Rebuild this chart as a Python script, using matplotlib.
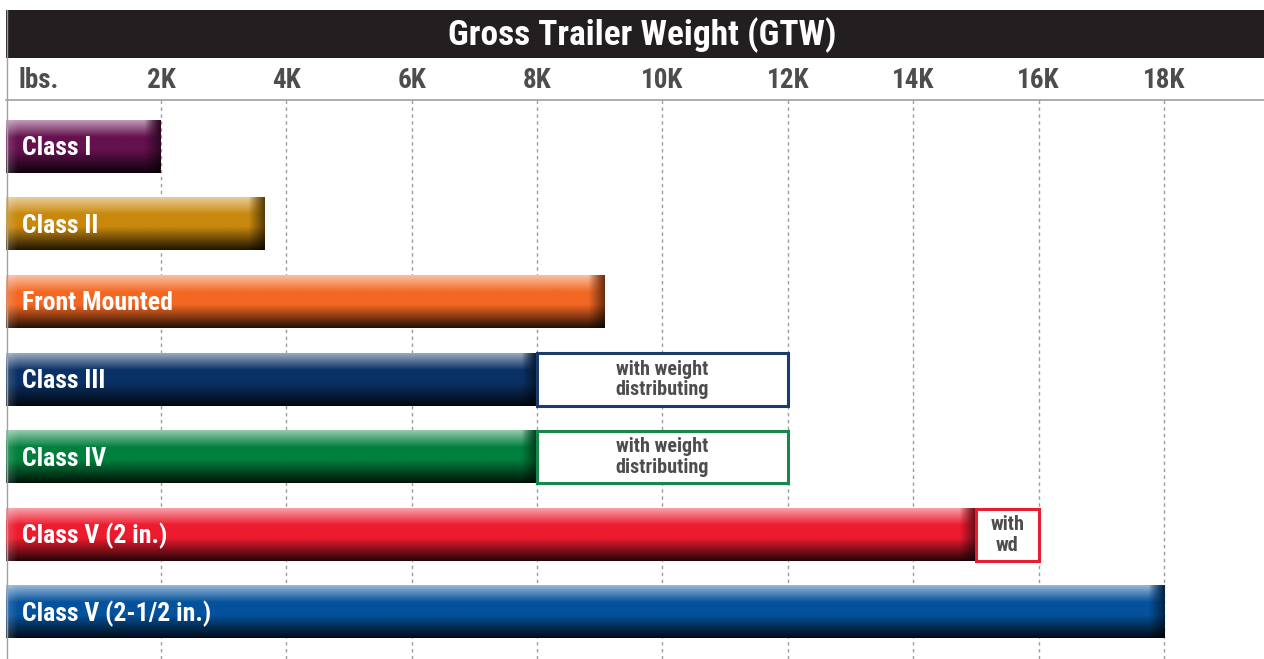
#!/usr/bin/env python
import numpy as np
import matplotlib
matplotlib.use("Agg")
import matplotlib.pyplot as plt
from matplotlib import transforms
from matplotlib.colors import to_rgb
from matplotlib.patches import Rectangle
from matplotlib.lines import Line2D

plt.rcParams['font.family'] = ['Roboto Condensed', 'DejaVu Sans']

# data (thousands of lbs)
classes = ["Class I", "Class II", "Front Mounted", "Class III", "Class IV",
           "Class V (2 in.)", "Class V (2-1/2 in.)"]
gtw_k = [2.0, 3.65, 9.08, 8.0, 8.0, 15.0, 18.0]
wd_k = [None, None, None, 12.0, 12.0, 16.0, None]
wd_labels = [None, None, None, "with weight\ndistributing",
             "with weight\ndistributing", "with\nwd", None]
bar_colors = ["#65104f", "#c8880e", "#f26722", "#0a3165",
              "#00803c", "#ed1b2e", "#05529c"]
box_edges = [None, None, None, "#1c3c6c", "#17884a", "#e61e30", None]
tick_vals = [2, 4, 6, 8, 10, 12, 14, 16, 18]
tick_labels = ["2K", "4K", "6K", "8K", "10K", "12K", "14K", "16K", "18K"]

W, H = 1264, 659
XMIN, XMAX = -0.472, 19.595
BAR_H = 0.67
GRAY = "#4d4d4f"


def bar_image(base, x0, x1, rows=64, per_k=50):
    base = np.array(to_rgb(base))
    ncol = max(int((x1 - x0) * per_k), 4)
    t = np.linspace(0, 1, rows)
    light = base * 0.42 + 0.58
    dark = base * 0.16
    prof = np.zeros((rows, 3))
    hl = np.zeros(rows)
    for i, v in enumerate(t):
        if v < 0.32:
            s = v / 0.32
            prof[i] = light * (1 - s) + base * s
            hl[i] = 1 - s
        elif v < 0.56:
            prof[i] = base
        else:
            s = (v - 0.56) / 0.44
            prof[i] = base * (1 - s) + dark * s
    img = np.repeat(prof[:, None, :], ncol, axis=1)
    xs = np.linspace(x0, x1, ncol)
    bevel = 0.25
    for j, x in enumerate(xs):
        d = x1 - x
        if d < bevel:
            s = 1 - d / bevel
            col = prof.copy()
            # no highlight in the bevel, darker toward the end
            col = col - (light - base)[None, :] * hl[:, None] * s
            col = col * (1 - 0.55 * s)
            img[:, j, :] = col
        elif x - x0 < 0.18:
            s = 1 - (x - x0) / 0.18
            img[:, j, :] = img[:, j, :] + (1 - img[:, j, :]) * 0.18 * s
    return np.clip(img, 0, 1)


fig = plt.figure(figsize=(W / 100, H / 100), dpi=100)
ax = fig.add_axes([6 / W, 0, 1 - 6 / W, 559 / H])

ax.set_xticks(tick_vals)
ax.set_yticks([])
ax.tick_params(axis='x', length=0, labelbottom=False)
ax.grid(axis='x', color="#9d9d9d", linestyle=(0, (2.5, 2.5)), linewidth=1)
ax.set_axisbelow(True)
for side in ["left", "right", "bottom"]:
    ax.spines[side].set_visible(False)
ax.spines["top"].set_color("#a0a0a0")
ax.spines["top"].set_linewidth(1.2)

for i, name in enumerate(classes):
    img = bar_image(bar_colors[i], XMIN, gtw_k[i])
    ax.imshow(img, extent=(XMIN, gtw_k[i], i + BAR_H / 2, i - BAR_H / 2),
              aspect='auto', origin='upper', interpolation='bilinear', zorder=3)
    ax.annotate(name, xy=(XMIN, i), xytext=(16, -1.5), textcoords='offset pixels',
                ha='left', va='center', color='white', fontsize=18.5,
                fontweight='bold', zorder=5)
    if wd_k[i] is not None:
        ax.add_patch(Rectangle((gtw_k[i], i - BAR_H / 2), wd_k[i] - gtw_k[i], BAR_H,
                               facecolor='white', edgecolor=box_edges[i],
                               linewidth=2.2, zorder=4))
        ax.text((gtw_k[i] + wd_k[i]) / 2, i, wd_labels[i], ha='center', va='center',
                color=GRAY, fontsize=14.5, fontweight='bold', linespacing=1.12,
                zorder=5)

ax.set_ylim(len(classes) - 0.4, -0.6)
ax.set_xlim(XMIN, XMAX)

# header row
tr = transforms.blended_transform_factory(ax.transData, fig.transFigure)
for v, lab in zip(tick_vals, tick_labels):
    ax.text(v, 1 - 81 / H, lab, transform=tr, ha='center', va='center',
            color=GRAY, fontsize=19.5, fontweight='bold', clip_on=False)
fig.text(18 / W, 1 - 81 / H, "lbs.", ha='left', va='center', color=GRAY,
         fontsize=19.5, fontweight='bold')

# title bar
fig.patches.append(Rectangle((6 / W, 1 - 58 / H), 1 - 6 / W, 48 / H,
                             transform=fig.transFigure, facecolor="#231f20",
                             edgecolor='none'))
fig.text(642 / W, 1 - 35 / H, "Gross Trailer Weight (GTW)", ha='center',
         va='center', color='white', fontsize=25.5, fontweight='bold')

# left border
fig.lines.append(Line2D([6.5 / W, 6.5 / W], [0, 1 - 10 / H], transform=fig.transFigure,
                        color="#a0a0a0", linewidth=1))

fig.savefig("out.png", dpi=100)
